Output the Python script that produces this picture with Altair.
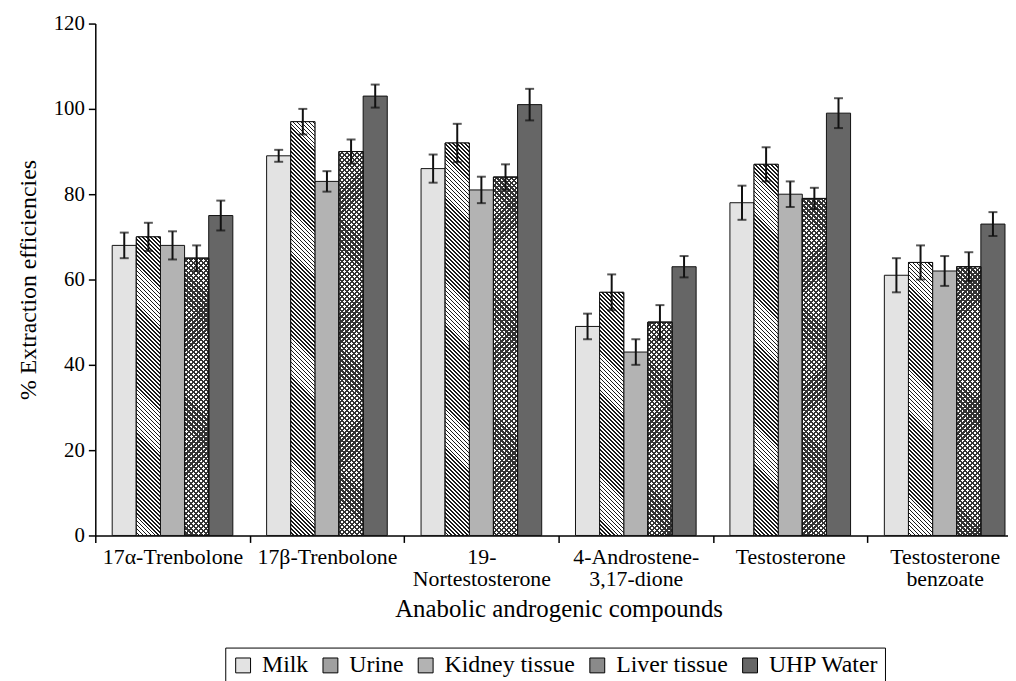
import altair as alt
import pandas as pd

# ---------------- data ----------------
COMPOUNDS = ["17α-Trenbolone", "17β-Trenbolone", "19-|Nortestosterone",
             "4-Androstene-|3,17-dione", "Testosterone", "Testosterone|benzoate"]
MATRICES = ["Milk", "Urine", "Kidney tissue", "Liver tissue", "UHP Water"]

MILK = [68, 89, 86, 49, 78, 61]
MILK_ERR = [3.0, 1.4, 3.3, 3.0, 4.0, 4.0]
URINE = [70, 97, 92, 57, 87, 64]
URINE_ERR = [3.3, 3.0, 4.5, 4.2, 4.0, 4.0]
KIDNEY = [68, 83, 81, 43, 80, 62]
KIDNEY_ERR = [3.3, 2.4, 3.1, 3.0, 3.0, 3.5]
LIVER = [65, 90, 84, 50, 79, 63]
LIVER_ERR = [3.0, 2.8, 3.0, 4.0, 2.5, 3.4]
WATER = [75, 103, 101, 63, 99, 73]
WATER_ERR = [3.5, 2.7, 3.7, 2.5, 3.5, 2.8]

SERIES = [MILK, URINE, KIDNEY, LIVER, WATER]
ERRORS = [MILK_ERR, URINE_ERR, KIDNEY_ERR, LIVER_ERR, WATER_ERR]

rows = []
for m, vals, errs in zip(MATRICES, SERIES, ERRORS):
    for c, v, e in zip(COMPOUNDS, vals, errs):
        rows.append({"compound": c, "matrix": m, "value": v, "err": e,
                     "lo": v - e, "hi": v + e})
df = pd.DataFrame(rows)

# ---------------- style ----------------
FONT = "Liberation Serif"
PLOT_W = 910
PLOT_H = 516
RANGE_W = 934           # x range extends past the visible area (cropped like the reference)
OUTER_PAD = 0.7
BAR_W = RANGE_W / 6 / (5 + 2 * OUTER_PAD)
PX_PER_UNIT = PLOT_H / 120
K = 480.0

FILLS = ["#e3e3e3", "#a0a0a0", "#b3b3b3", "#8a8a8a", "#666666"]


def stripe_stops(period, frac, line_color, gap_color):
    pf = period / K
    parts = []
    t = 0.0
    while t < 1.0:
        b = min(t + pf * (1 - frac), 1.0)
        c = min(t + pf, 1.0)
        parts.append("{offset:%.5f,color:'%s'}" % (t, gap_color))
        parts.append("{offset:%.5f,color:'%s'}" % (b, gap_color))
        parts.append("{offset:%.5f,color:'%s'}" % (b, line_color))
        parts.append("{offset:%.5f,color:'%s'}" % (c, line_color))
        t += pf
    return "[" + ",".join(parts) + "]"


def grad_back(stops):  # "\" lines
    return ("{gradient:'linear',x1:0,y1:1,"
            "x2:%f*%f/(%f*%f+datum.h*datum.h),"
            "y2:1-%f*datum.h/(%f*%f+datum.h*datum.h),stops:%s}"
            % (K, BAR_W, BAR_W, BAR_W, K, BAR_W, BAR_W, stops))


def grad_fwd(stops):  # "/" lines
    return ("{gradient:'linear',x1:0,y1:0,"
            "x2:%f*%f/(%f*%f+datum.h*datum.h),"
            "y2:%f*datum.h/(%f*%f+datum.h*datum.h),stops:%s}"
            % (K, BAR_W, BAR_W, BAR_W, K, BAR_W, BAR_W, stops))


URINE_STOPS = stripe_stops(4.0, 0.42, "#1a1a1a", "#ffffff")
LIVER_STOPS_A = stripe_stops(5.0, 0.45, "#333333", "#ffffff")
LIVER_STOPS_B = stripe_stops(5.0, 0.45, "#333333", "rgba(255,255,255,0)")

x_enc = alt.X("compound:N", sort=COMPOUNDS,
              scale=alt.Scale(domain=COMPOUNDS, range=[0, RANGE_W],
                              paddingInner=0, paddingOuter=0),
              axis=alt.Axis(title="Anabolic androgenic compounds",
                            labelExpr="split(datum.label, '|')",
                            labelAngle=0, tickBand="extent", tickSize=7,
                            labelPadding=4, labelFontSize=22,
                            labelLineHeight=22, titleFontSize=25,
                            titlePadding=8, labelBound=False))
xo_enc = alt.XOffset("matrix:N", sort=MATRICES,
                     scale=alt.Scale(domain=MATRICES, paddingInner=0,
                                     paddingOuter=OUTER_PAD))
y_enc = alt.Y("value:Q", scale=alt.Scale(domain=[0, 120], nice=False),
              axis=alt.Axis(title="% Extraction efficiencies",
                            values=[0, 20, 40, 60, 80, 100, 120],
                            tickSize=7, labelPadding=4, labelFontSize=21,
                            titleFontSize=24, titlePadding=13, grid=False))

base = alt.Chart(df)

bars = base.mark_bar(stroke="#111111", strokeWidth=1).encode(
    x=x_enc, xOffset=xo_enc, y=y_enc,
    fill=alt.Fill("matrix:N", sort=MATRICES,
                  scale=alt.Scale(domain=MATRICES, range=FILLS),
                  legend=alt.Legend(orient="none", legendX=131, legendY=629,
                                    direction="horizontal", columns=5,
                                    title=None, labelFont=FONT,
                                    labelFontSize=24, labelColor="black")),
)

urine = base.transform_filter("datum.matrix == 'Urine'").transform_calculate(
    h="datum.value*%f" % PX_PER_UNIT).transform_calculate(
    grad=grad_back(URINE_STOPS)).mark_bar(stroke="#111111", strokeWidth=1).encode(
    x=x_enc, xOffset=xo_enc, y=y_enc,
    fill=alt.Fill("grad:N", scale=None, legend=None))

liver_a = base.transform_filter("datum.matrix == 'Liver tissue'").transform_calculate(
    h="datum.value*%f" % PX_PER_UNIT).transform_calculate(
    grad=grad_fwd(LIVER_STOPS_A)).mark_bar(stroke="#111111", strokeWidth=1).encode(
    x=x_enc, xOffset=xo_enc, y=y_enc,
    fill=alt.Fill("grad:N", scale=None, legend=None))

liver_b = base.transform_filter("datum.matrix == 'Liver tissue'").transform_calculate(
    h="datum.value*%f" % PX_PER_UNIT).transform_calculate(
    grad=grad_back(LIVER_STOPS_B)).mark_bar(stroke="#111111", strokeWidth=1).encode(
    x=x_enc, xOffset=xo_enc, y=y_enc,
    fill=alt.Fill("grad:N", scale=None, legend=None))

rules = base.mark_rule(color="#111111", strokeWidth=2).encode(
    x=x_enc, xOffset=xo_enc, y=alt.Y("lo:Q"), y2="hi:Q")
cap_lo = base.mark_tick(color="#111111", thickness=2, size=9).encode(
    x=x_enc, xOffset=xo_enc, y=alt.Y("lo:Q"))
cap_hi = base.mark_tick(color="#111111", thickness=2, size=9).encode(
    x=x_enc, xOffset=xo_enc, y=alt.Y("hi:Q"))

chart = alt.layer(bars, urine, liver_a, liver_b, rules, cap_lo, cap_hi).properties(
    width=PLOT_W, height=PLOT_H,
    autosize=alt.AutoSizeParams(type="none"),
    padding={"left": 88, "top": 13, "right": 10, "bottom": 144},
).configure(font=FONT).configure_view(stroke=None).configure_axis(
    labelFont=FONT, titleFont=FONT, labelColor="black", titleColor="black",
    domainColor="black", tickColor="black", domainWidth=1.5, tickWidth=1.5,
    titleFontWeight="normal", grid=False,
).configure_legend(
    labelFont=FONT, labelFontSize=24, labelColor="black",
    symbolType="square", symbolSize=225, symbolStrokeColor="black",
    symbolStrokeWidth=1, symbolOpacity=1, strokeColor="black",
    fillColor="white", padding=6, columnPadding=10, labelOffset=7,
    cornerRadius=0, labelLimit=300,
)

chart.save("out.html", embed_options={"renderer": "svg", "actions": False})
